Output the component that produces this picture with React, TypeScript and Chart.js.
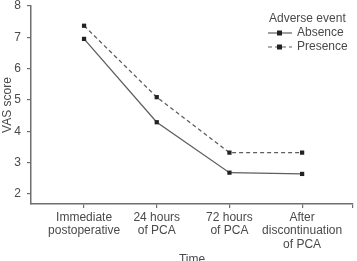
import React, { useEffect, useRef } from "react";
import { Chart, registerables } from "chart.js";

Chart.register(...registerables);

const categories: string[][] = [
  ["Immediate", "postoperative"],
  ["24 hours", "of PCA"],
  ["72 hours", "of PCA"],
  ["After", "discontinuation", "of PCA"],
];
const absence = [6.95, 4.29, 2.68, 2.64];
const presence = [7.37, 5.09, 3.32, 3.32];
const yTicks = [2, 3, 4, 5, 6, 7, 8];
const seriesNames = ["Absence", "Presence"];
const legendTitle = "Adverse event";

const FONT = "'Liberation Sans', Arial, sans-serif";
const TEXT = "#4a4a4a";
const AXIS = "#6e6e6e";
const LINE = "#5e5e5e";

const legendPlugin = {
  id: "customLegend",
  afterDraw(chart: any) {
    const ctx = chart.ctx as CanvasRenderingContext2D;
    ctx.save();
    ctx.font = `12px ${FONT}`;
    ctx.fillStyle = TEXT;
    ctx.textBaseline = "middle";
    ctx.textAlign = "left";
    ctx.fillText(legendTitle, 269, 19);
    const rows = [33, 47];
    rows.forEach((y, i) => {
      ctx.strokeStyle = LINE;
      ctx.lineWidth = 1.2;
      ctx.setLineDash(i === 0 ? [] : [4, 3]);
      ctx.beginPath();
      ctx.moveTo(268, y);
      ctx.lineTo(292, y);
      ctx.stroke();
      ctx.setLineDash([]);
      ctx.fillStyle = "#222";
      ctx.fillRect(277, y - 2.5, 5, 5);
      ctx.fillStyle = TEXT;
      ctx.fillText(seriesNames[i], 297, y);
    });
    ctx.restore();
  },
};

export default function App() {
  const ref = useRef<HTMLCanvasElement>(null);
  useEffect(() => {
    if (!ref.current) return;
    const chart = new Chart(ref.current, {
      type: "line",
      data: {
        datasets: [
          {
            label: seriesNames[0],
            data: absence.map((v, i) => ({ x: i + 1, y: v })),
            borderColor: LINE,
            borderWidth: 1.3,
            pointStyle: "rect",
            pointRadius: 3,
            pointBackgroundColor: "#222",
            pointBorderColor: "#222",
            pointBorderWidth: 0,
          },
          {
            label: seriesNames[1],
            data: presence.map((v, i) => ({ x: i + 1, y: v })),
            borderColor: LINE,
            borderWidth: 1.3,
            borderDash: [4, 3],
            pointStyle: "rect",
            pointRadius: 3,
            pointBackgroundColor: "#222",
            pointBorderColor: "#222",
            pointBorderWidth: 0,
          },
        ],
      },
      options: {
        responsive: false,
        animation: false,
        layout: { padding: { top: 6, right: 2, left: 0, bottom: 0 } },
        plugins: { legend: { display: false }, tooltip: { enabled: false } },
        scales: {
          x: {
            type: "linear",
            min: 0.27,
            max: 4.7,
            grid: {
              display: true,
              drawOnChartArea: false,
              drawTicks: true,
              tickLength: 4,
              color: AXIS,
              lineWidth: 1.2,
            },
            border: { color: AXIS, width: 1.5 },
            afterBuildTicks: (s: any) => {
              s.ticks = [1, 2, 3, 4, 4.7].map((v) => ({ value: v }));
            },
            ticks: {
              autoSkip: false,
              maxRotation: 0,
              color: TEXT,
              font: { family: FONT, size: 12, lineHeight: 1.12 },
              padding: 3,
              callback: (v: any) => {
                const i = Math.round(Number(v)) - 1;
                return Number.isInteger(Number(v)) && categories[i] ? categories[i] : "";
              },
            },
            title: {
              display: true,
              text: "Time",
              color: TEXT,
              font: { family: FONT, size: 12 },
              padding: { top: 0, bottom: -6 },
            },
            afterFit: (s: any) => {
              s.height = 57;
            },
          },
          y: {
            type: "linear",
            min: 1.68,
            max: 8,
            grid: {
              display: true,
              drawOnChartArea: false,
              drawTicks: true,
              tickLength: 4,
              color: AXIS,
              lineWidth: 1.2,
            },
            border: { color: AXIS, width: 1.5 },
            afterBuildTicks: (s: any) => {
              s.ticks = yTicks.map((v) => ({ value: v }));
            },
            ticks: {
              color: TEXT,
              font: { family: FONT, size: 12 },
              padding: 6,
            },
            title: {
              display: true,
              text: "VAS score",
              color: TEXT,
              font: { family: FONT, size: 12 },
              padding: { top: 0, bottom: 2 },
            },
            afterFit: (s: any) => {
              s.width = 31;
              s.paddingTop = 0;
              s.paddingBottom = 0;
            },
          },
        },
      },
      plugins: [legendPlugin],
    });
    return () => chart.destroy();
  }, []);
  return (
    <div style={{ position: "fixed", left: 0, top: 0, width: 357, height: 261, background: "#fff" }}>
      <canvas ref={ref} width={357} height={261} style={{ display: "block" }} />
    </div>
  );
}
